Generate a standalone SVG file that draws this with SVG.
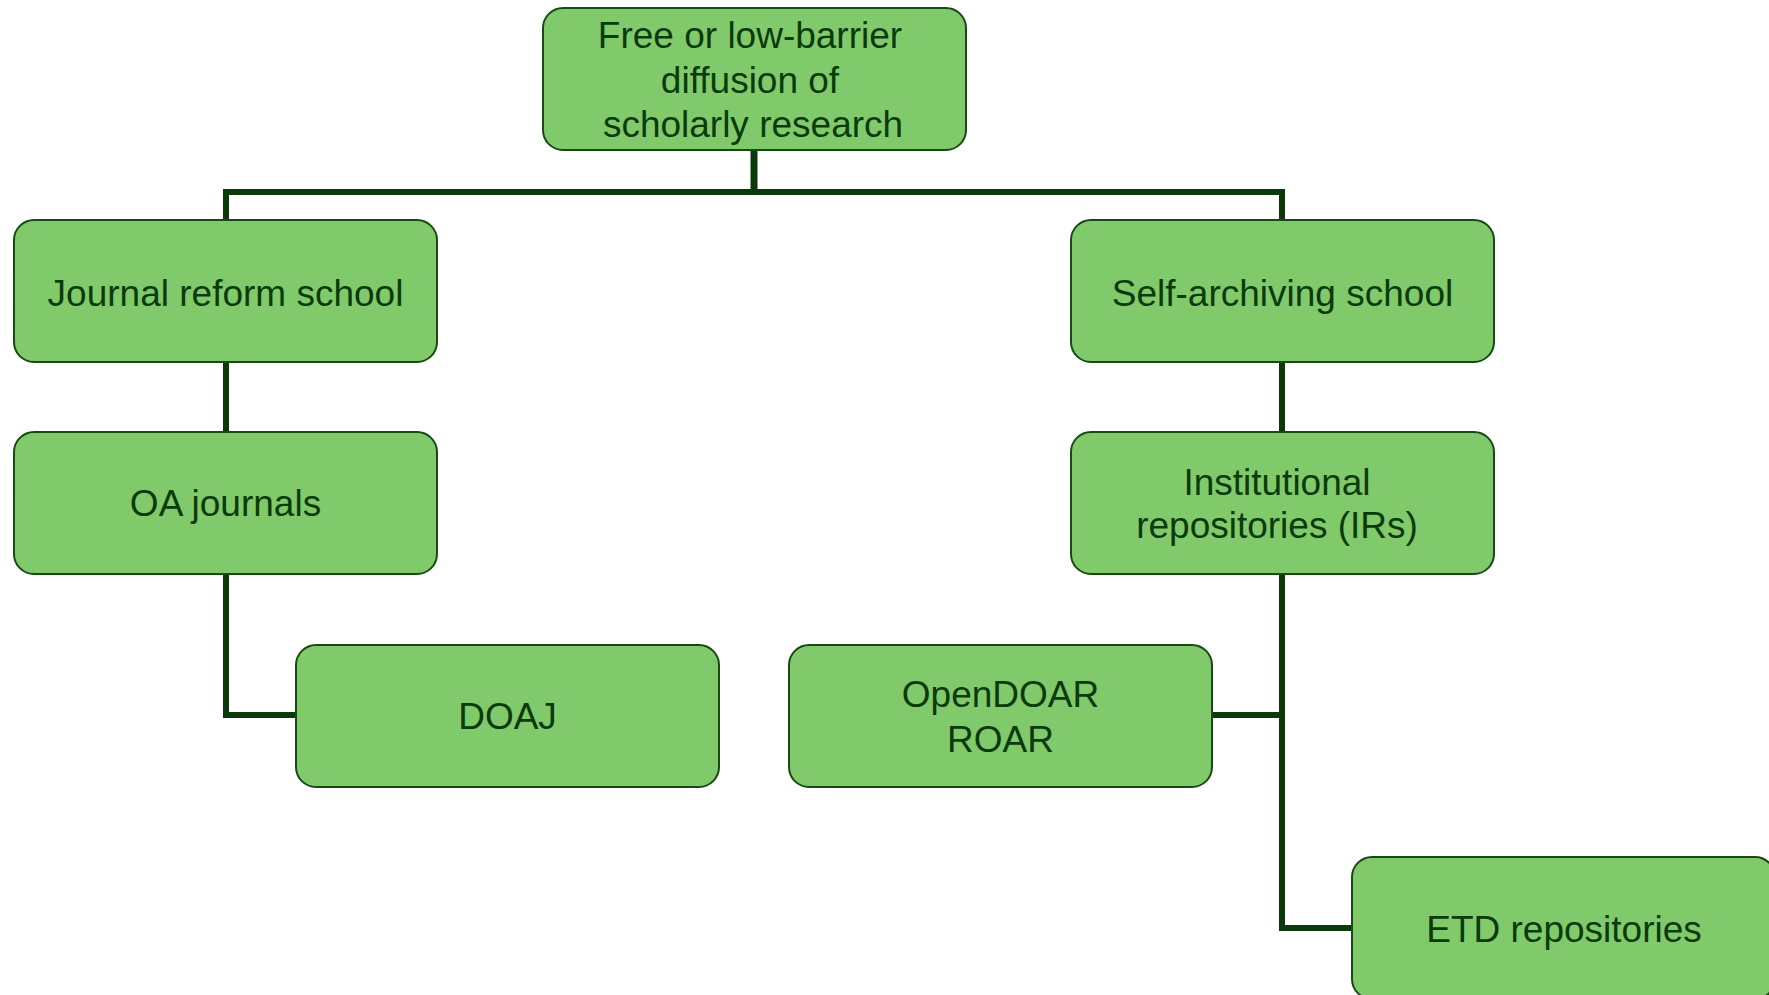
<svg xmlns="http://www.w3.org/2000/svg" width="1769" height="995" viewBox="0 0 1769 995">
<style>
.box{fill:#80ca6b;stroke:#184a14;stroke-width:2}
.t{font-family:"Liberation Sans",Arial,sans-serif;font-size:37px;fill:#0b3a0b;text-anchor:middle}
.c{fill:none;stroke:#0a3a0a;stroke-width:6;stroke-linejoin:miter}
</style>
<rect width="1769" height="995" fill="#ffffff"/>
<g id="connectors">
<path class="c" d="M754 150 V192" style="stroke-width:7"/>
<path class="c" d="M226 220 V192 H1282 V220"/>
<path class="c" d="M226 362 V432"/>
<path class="c" d="M226 574 V715 H296"/>
<path class="c" d="M1282 362 V432"/>
<path class="c" d="M1282 574 V928 H1352"/>
<path class="c" d="M1212 715 H1282"/>
</g>
<g id="root">
<rect class="box" x="543" y="8" width="423" height="142" rx="20"/>
<text class="t" x="750" y="48">Free or low-barrier</text>
<text class="t" x="750" y="93">diffusion of</text>
<text class="t" x="753" y="137">scholarly research</text>
</g>
<g id="journal-reform">
<rect class="box" x="14" y="220" width="423" height="142" rx="20"/>
<text class="t" x="225.5" y="306">Journal reform school</text>
</g>
<g id="oa-journals">
<rect class="box" x="14" y="432" width="423" height="142" rx="20"/>
<text class="t" x="225.5" y="516">OA journals</text>
</g>
<g id="doaj">
<rect class="box" x="296" y="645" width="423" height="142" rx="20"/>
<text class="t" x="507.5" y="729">DOAJ</text>
</g>
<g id="self-archiving">
<rect class="box" x="1071" y="220" width="423" height="142" rx="20"/>
<text class="t" x="1282.5" y="306">Self-archiving school</text>
</g>
<g id="institutional">
<rect class="box" x="1071" y="432" width="423" height="142" rx="20"/>
<text class="t" x="1277" y="495">Institutional</text>
<text class="t" x="1277" y="538">repositories (IRs)</text>
</g>
<g id="opendoar">
<rect class="box" x="789" y="645" width="423" height="142" rx="20"/>
<text class="t" x="1000.5" y="707">OpenDOAR</text>
<text class="t" x="1000.5" y="752">ROAR</text>
</g>
<g id="etd">
<rect class="box" x="1352" y="857" width="423" height="142" rx="20"/>
<text class="t" x="1564" y="942">ETD repositories</text>
</g>
</svg>
